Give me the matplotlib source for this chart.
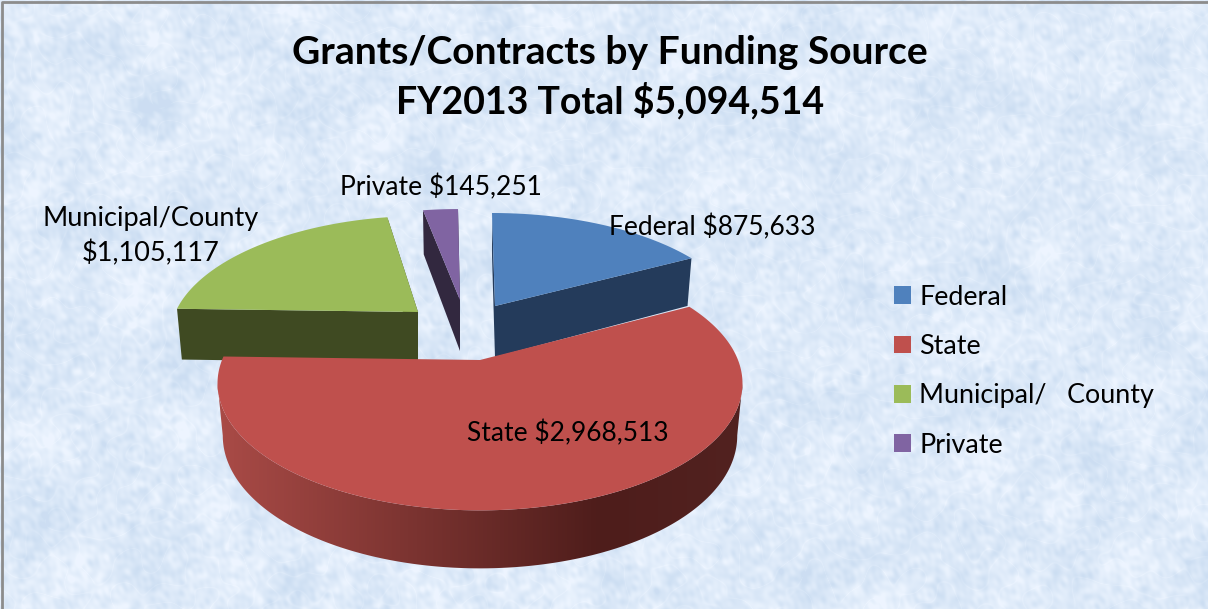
import numpy as np
import matplotlib
matplotlib.use("Agg")
import matplotlib.pyplot as plt
from matplotlib.patches import Patch, Polygon

plt.rcParams["font.family"] = ["Lato", "DejaVu Sans"]

# data
sources = ["Federal", "State", "Municipal/County", "Private"]
amounts = [875633, 2968513, 1105117, 145251]
legend_names = ["Federal", "State", "Municipal/   County", "Private"]
total = 5094514

# look of each slice
top_colors = ["#4f81bd", "#bf504d", "#9bbb59", "#8064a2"]
wall_colors = ["#243b5b", "#7a2f2d", "#3f4a22", "#32283f"]
apex = [(495, 306), (480, 360), (418, 312), (460, 300)]
scale_x = [0.945, 1.0, 0.94, 0.90]
scale_y = [0.91, 1.014, 0.94, 0.89]
lean = [-3, 0, 6, -2]
draw_order = [3, 2, 0, 1]

W, H = 1208, 609
RX, RY, K = 258, 121, 0.184   # pie radius on screen and perspective


def project(i, theta):
    u, v = np.sin(theta), np.cos(theta)
    d = 1 + K * v
    x = apex[i][0] + scale_x[i] * RX * u / d + lean[i] * v
    y = apex[i][1] - scale_y[i] * RY * v / d
    return x, y


def drop(i, x, y, v):
    # the lower face sits a bit lower and narrower
    return apex[i][0] + (x - apex[i][0]) * 0.98, y + 51 - 7 * v


def background():
    # paper texture made of many crossing waves
    yy, xx = np.mgrid[0:H, 0:W]
    fine = np.zeros((H, W))
    blobs = np.zeros((H, W))
    veins = np.zeros((H, W))
    for n in range(48):
        a = n * 2.39996
        f = 2 * np.pi / (7 + 1.9 * (n % 13))
        fine += np.sin(f * (xx * np.cos(a) + yy * np.sin(a)) + 3.1 * n)
        g = 2 * np.pi / (60 + 11.3 * (n % 9))
        blobs += np.sin(g * (xx * np.sin(a) + yy * np.cos(a)) + 1.9 * n)
        h = 2 * np.pi / (28 + 5.7 * (n % 7))
        veins += np.sin(h * (xx * np.sin(a) - yy * np.cos(a)) + 1.3 * n)
    ridge = np.exp(-(veins / veins.std() / 0.12) ** 2)
    t = 0.52 + 0.14 * fine / fine.std() + 0.13 * blobs / blobs.std() + 0.16 * ridge
    t = np.clip(t, 0, 1)[..., None]
    dark = np.array([0.80, 0.87, 0.95])
    light = np.array([0.93, 0.96, 1.0])
    return dark + (light - dark) * t


fig = plt.figure(figsize=(W / 100, H / 100), dpi=100)
ax = fig.add_axes([0, 0, 1, 1])
ax.imshow(background(), extent=(0, W, H, 0), aspect="auto", zorder=0, interpolation="bilinear")

# frame on the left and top of the picture
ax.plot([1.5, 1.5, W], [H, 2, 2], color="#8c8c8c", lw=2, zorder=1)

angles = np.cumsum([0] + amounts) / total * 2 * np.pi
for i in draw_order:
    th = np.linspace(angles[i], angles[i + 1], 240)
    x, y = project(i, th)
    bx, by = drop(i, x, y, np.cos(th))
    z = 2 + draw_order.index(i)
    ax_, ay_ = apex[i]

    if i == 1:
        # outer wall of the big slice, from rim extreme to rim extreme
        t0, t1 = np.argmax(x), np.argmin(x)
        b0, b1 = np.argmax(bx), np.argmin(bx)
        sil = np.vstack([np.column_stack([x[t0:t1 + 1], y[t0:t1 + 1]]),
                         np.column_stack([bx[b0:b1 + 1], by[b0:b1 + 1]])[::-1]])
        clip = Polygon(sil, fc="none", ec="none", transform=ax.transData)
        ax.add_patch(clip)
        gx = np.linspace(215, 745, 530)
        shade = np.column_stack([np.interp(gx, [225, 600, 745], [0xa8, 0x4e, 0x52]),
                                 np.interp(gx, [225, 600, 745], [0x4a, 0x1d, 0x22]),
                                 np.interp(gx, [225, 600, 745], [0x46, 0x1b, 0x20])]) / 255
        im = ax.imshow(shade[None, :, :], extent=(215, 745, 580, 350), aspect="auto", zorder=z)
        im.set_clip_path(clip)
    else:
        # the two cut walls
        for px, py, qx, qy in [(x[0], y[0], bx[0], by[0]), (x[-1], y[-1], bx[-1], by[-1])]:
            wall = [(ax_, ay_), (px, py), (qx, qy), (ax_, ay_ + 51)]
            ax.add_patch(Polygon(wall, fc=wall_colors[i], ec="none", zorder=z))

    # top face
    pts = np.vstack([[ax_, ay_], np.column_stack([x, y])])
    ax.add_patch(Polygon(pts, fc=top_colors[i], ec="none", zorder=z + 0.5))

ax.set_xlim(0, W)
ax.set_ylim(H, 0)
ax.axis("off")

ax.text(609.5, 52.5, "Grants/Contracts by Funding Source", ha="center", va="center",
        fontsize=28.1, fontweight="bold", color="black", zorder=10)
ax.text(610, 101, "FY2013 Total $%s" % format(total, ","), ha="center", va="center",
        fontsize=27, fontweight="bold", color="black", zorder=10)

ax.text(441, 187, "%s $%s" % (sources[3], format(amounts[3], ",")), ha="center", va="center", fontsize=19, zorder=10)
ax.text(712, 227, "%s $%s" % (sources[0], format(amounts[0], ",")), ha="center", va="center", fontsize=19, zorder=10)
ax.text(568, 433, "%s $%s" % (sources[1], format(amounts[1], ",")), ha="center", va="center", fontsize=19, zorder=10)
ax.text(151, 236.5, "%s\n$%s" % (sources[2], format(amounts[2], ",")), ha="center", va="center", fontsize=19.5,
        linespacing=1.42, zorder=10)

handles = [Patch(fc=c, ec="none") for c in top_colors]
leg = ax.legend(handles, legend_names, loc="upper left", bbox_to_anchor=(883 / W, 1 - 274 / H), frameon=False,
                fontsize=19.4, handlelength=0.63, handleheight=0.63, handletextpad=0.32, labelspacing=0.9,
                borderpad=0.4, borderaxespad=0)
leg.set_zorder(10)

fig.savefig("out.png", dpi=100)
